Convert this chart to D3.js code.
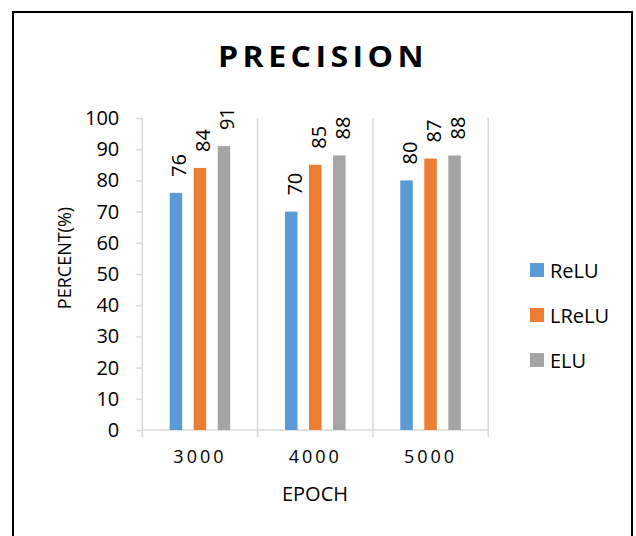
<!DOCTYPE html>
<html>
<head>
<meta charset="utf-8">
<script src="https://cdn.jsdelivr.net/npm/d3@7"></script>
<style>
  html, body { margin: 0; padding: 0; background: #fff; }
  svg { display: block; }
  text { font-family: "Open Sans", "Noto Sans", sans-serif; fill: #000; }
</style>
</head>
<body>
<svg id="chart" width="636" height="536"></svg>
<script>
// Precision per activation function at each training epoch count
const epochs = ["3000", "4000", "5000"];
const series = ["ReLU", "LReLU", "ELU"];
const reluValues = [76, 70, 80];
const lreluValues = [84, 85, 87];
const eluValues = [91, 88, 88];
const yTicks = [0, 10, 20, 30, 40, 50, 60, 70, 80, 90, 100];
const colors = ["#5B9BD5", "#ED7D31", "#A5A5A5"];

const valuesBySeries = [reluValues, lreluValues, eluValues];
const rows = epochs.map((e, i) => ({
  epoch: e,
  values: series.map((s, j) => ({ key: s, value: valuesBySeries[j][i] }))
}));

const svg = d3.select("#chart");
const plot = { left: 142.3, right: 488.2, top: 118, bottom: 430 };
const gridColor = "#d9d9d9";

// Outer chart frame (bottom edge runs past the canvas)
svg.append("rect")
  .attr("x", 13).attr("y", 12)
  .attr("width", 619).attr("height", 600)
  .attr("fill", "none").attr("stroke", "#000").attr("stroke-width", 2);

// Title
svg.append("text")
  .attr("x", 323).attr("y", 67)
  .attr("text-anchor", "middle")
  .attr("font-size", 29).attr("font-weight", 700)
  .attr("letter-spacing", "4px")
  .attr("textLength", 210).attr("lengthAdjust", "spacingAndGlyphs")
  .text("PRECISION");

const x0 = d3.scaleBand().domain(epochs).range([plot.left, plot.right]).padding(0);
const x1 = d3.scaleBand().domain(series).range([0, x0.bandwidth()])
  .paddingInner(0.48).paddingOuter(1.14);
const y = d3.scaleLinear().domain([0, 100]).range([plot.bottom, plot.top]);
const color = d3.scaleOrdinal().domain(series).range(colors);

// Vertical gridlines at category boundaries, with ticks below the axis
const bounds = epochs.map(e => x0(e)).concat([x0(epochs[epochs.length - 1]) + x0.bandwidth()]);
svg.append("g").selectAll("line").data(bounds.slice(1)).join("line")
  .attr("x1", d => d).attr("x2", d => d)
  .attr("y1", plot.top).attr("y2", plot.bottom + 7)
  .attr("stroke", gridColor).attr("stroke-width", 1.5);

// Y axis
const yAxis = svg.append("g")
  .attr("transform", `translate(${plot.left},0)`)
  .call(d3.axisLeft(y).tickValues(yTicks).tickSize(6).tickSizeOuter(0).tickPadding(17));
yAxis.select(".domain").attr("stroke", gridColor).attr("stroke-width", 1.5)
  .attr("d", `M0,${plot.top}V${plot.bottom + 7}`);
yAxis.selectAll(".tick line").attr("stroke", gridColor).attr("stroke-width", 1.5);
yAxis.selectAll(".tick text")
  .attr("font-size", 20).attr("font-family", "'Open Sans', sans-serif").attr("fill", "#000");

// X axis baseline and category labels
const xAxis = svg.append("g")
  .attr("transform", `translate(0,${plot.bottom})`)
  .call(d3.axisBottom(x0).tickSize(0).tickPadding(20));
xAxis.select(".domain").attr("stroke", gridColor).attr("stroke-width", 1.5)
  .attr("d", `M${plot.left},0H${plot.right}`);
xAxis.selectAll(".tick text")
  .attr("font-size", 18).attr("font-family", "'Open Sans', sans-serif").attr("fill", "#000")
  .attr("letter-spacing", "3px");

// Bars
const groups = svg.append("g").selectAll("g").data(rows).join("g")
  .attr("transform", d => `translate(${x0(d.epoch)},0)`);
groups.selectAll("rect").data(d => d.values).join("rect")
  .attr("x", d => x1(d.key))
  .attr("y", d => y(d.value))
  .attr("width", x1.bandwidth())
  .attr("height", d => y(0) - y(d.value))
  .attr("fill", d => color(d.key));

// Rotated value labels above the bars
groups.selectAll("text.val").data(d => d.values).join("text")
  .attr("class", "val")
  .attr("transform", d => `translate(${x1(d.key) + x1.bandwidth() / 2 + 3},${y(d.value) - 16}) rotate(-90)`)
  .attr("text-anchor", "start")
  .attr("dominant-baseline", "central")
  .attr("font-size", 20)
  .text(d => d.value);

// Axis titles
svg.append("text")
  .attr("x", 315).attr("y", 501)
  .attr("text-anchor", "middle").attr("font-size", 20)
  .text("EPOCH");
svg.append("text")
  .attr("transform", "translate(64,258) rotate(-90)")
  .attr("text-anchor", "middle").attr("dominant-baseline", "central")
  .attr("font-size", 18)
  .text("PERCENT(%)");

// Legend
const legend = svg.append("g").selectAll("g").data(series).join("g")
  .attr("transform", (d, i) => `translate(530,${270 + i * 45})`);
legend.append("rect")
  .attr("x", 0).attr("y", -7).attr("width", 14).attr("height", 14)
  .attr("fill", d => color(d));
legend.append("text")
  .attr("x", 20).attr("y", 0)
  .attr("dominant-baseline", "central")
  .attr("font-size", 20)
  .text(d => d);
</script>
</body>
</html>
